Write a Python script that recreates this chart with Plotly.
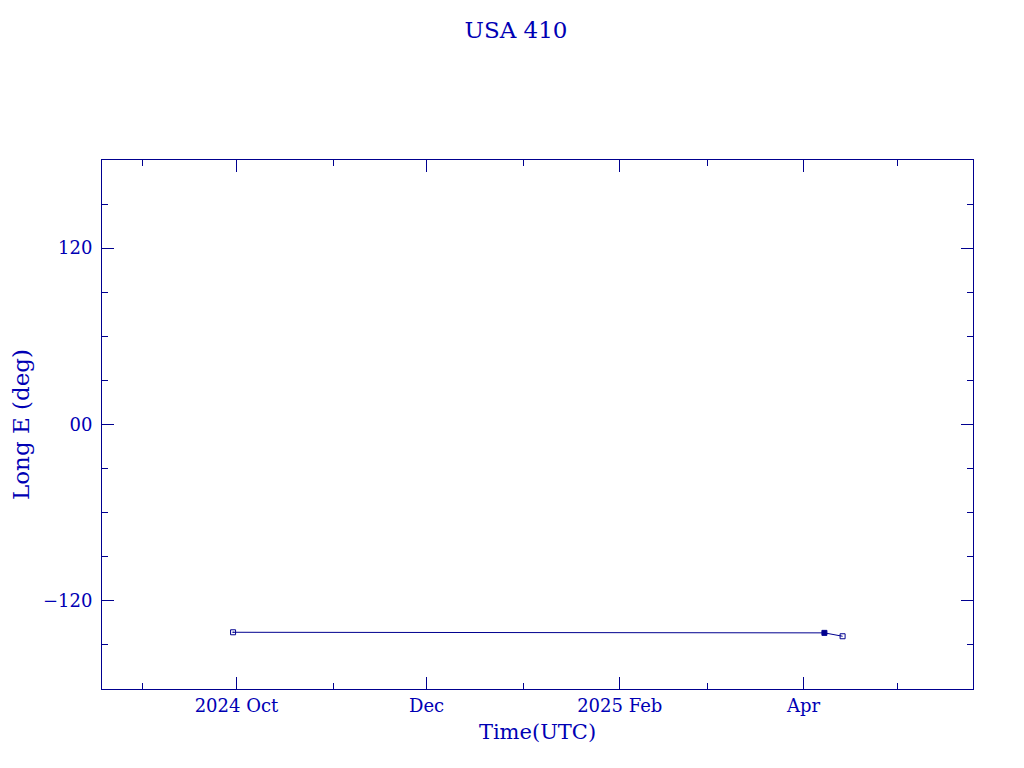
import plotly.graph_objects as go

# Data
dates = ["2024-09-29 22:00", "2025-04-07 16:00", "2025-04-13 12:00"]
long_e = [-141.4, -141.8, -144.1]

x_tickvals = ["2024-10-01", "2024-12-01", "2025-02-01", "2025-04-01"]
x_ticktext = ["2024 Oct", "Dec", "2025 Feb", "Apr"]
y_tickvals = [-120, 0, 120]
y_ticktext = ["\u2212120", "00", "120"]

AX = "#00008f"
TXT = "#0000b4"
FONT = "DejaVu Serif"

fig = go.Figure()
fig.add_trace(go.Scatter(
    x=dates, y=long_e, mode="lines+markers",
    line=dict(color=AX, width=1),
    marker=dict(symbol=["square-open-dot", "square", "square-open"], size=5,
                color=AX, line=dict(color=AX, width=1)),
    showlegend=False,
))

# page body has an 8px margin; figure sized so plot area lands at 102..973 x 160..689
fig.update_layout(
    width=1016, height=760,
    paper_bgcolor="white", plot_bgcolor="white",
    margin=dict(l=94, r=51, t=152, b=79),
    title=dict(text="USA 410", x=0.5, xanchor="center", y=1 - 22 / 760, yanchor="middle",
               font=dict(family=FONT, size=23, color=TXT)),
    font=dict(family=FONT, color=TXT),
)
fig.update_xaxes(
    type="date", range=["2024-08-18 20:40", "2025-05-25 08:10"],
    tickvals=x_tickvals, ticktext=x_ticktext,
    ticks="inside", ticklen=12, tickwidth=1, tickcolor=AX,
    minor=dict(ticks="inside", ticklen=6, tickwidth=1, tickcolor=AX,
               dtick="M1", tick0="2024-09-01", showgrid=False),
    showline=True, linecolor=AX, linewidth=1, mirror="ticks",
    showgrid=False, zeroline=False, automargin=False,
    tickfont=dict(family=FONT, size=18, color=TXT),
    title=dict(text="Time(UTC)", font=dict(family=FONT, size=21, color=TXT), standoff=9),
)
fig.update_yaxes(
    range=[-180, 180],
    tickvals=y_tickvals, ticktext=y_ticktext,
    ticks="inside", ticklen=12, tickwidth=1, tickcolor=AX,
    minor=dict(ticks="inside", ticklen=6, tickwidth=1, tickcolor=AX,
               dtick=30, tick0=0, showgrid=False),
    showline=True, linecolor=AX, linewidth=1, mirror="ticks",
    showgrid=False, zeroline=False, automargin=False,
    ticklabelstandoff=5,
    tickfont=dict(family=FONT, size=18, color=TXT),
    title=dict(text="Long E (deg)", font=dict(family=FONT, size=23, color=TXT), standoff=20),
)

fig.write_html("out.html")
